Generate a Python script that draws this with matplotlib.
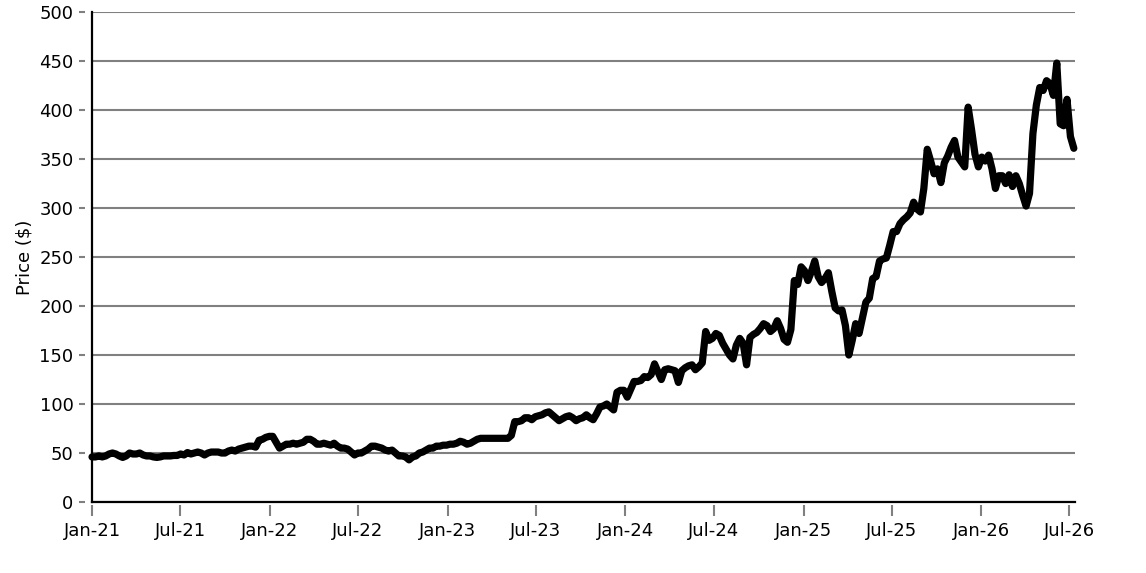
import numpy as np
import pandas as pd
import matplotlib
matplotlib.use('Agg')
import matplotlib.pyplot as plt
import matplotlib.dates as mdates

# weekly closing prices, one list per year
p2021 = [46, 46, 47, 46, 47, 49, 50, 49, 47, 45.5, 47, 50, 49, 49, 50, 48, 47, 47, 46, 45.5,
         46, 47, 47, 47, 47.5, 47.5, 49, 48, 50.5, 49, 50, 51, 50, 48, 50, 51, 51, 51, 50, 50,
         52, 53, 52, 54, 55, 56, 57, 57, 56, 63, 64, 66]
p2022 = [67, 67, 61, 55, 57, 59, 59, 60, 59, 60, 61, 64, 64, 62, 59, 59, 60, 59, 58, 60,
         57, 55, 55, 54, 51, 48, 50, 50, 52, 54, 57, 57, 56, 55, 53, 52, 53, 50, 47, 47,
         46, 43, 46, 47, 50, 51, 53, 55, 55, 57, 57, 58]
p2023 = [58, 59, 59, 60, 62, 61, 59, 60, 62, 64, 65, 65, 65, 65, 65, 65, 65, 65, 65, 68,
         82, 82, 83, 86, 86, 84, 87, 88, 89, 91, 92, 89, 86, 83, 85, 87, 88, 86, 83, 85,
         86, 89, 86, 84, 90, 97, 98, 100, 97, 94, 112, 114]
p2024 = [114, 107, 115, 123, 123, 124, 128, 127, 130, 141, 133, 125, 135, 136, 135, 134, 122, 134, 137, 139,
         140, 135, 138, 142, 174, 165, 167, 172, 170, 162, 156, 150, 146, 160, 167, 162, 140, 168, 171, 173,
         177, 182, 180, 174, 177, 185, 177, 166, 163, 176, 226, 222]
p2025 = [240, 236, 226, 235, 246, 230, 224, 228, 234, 215, 198, 195, 196, 180, 150, 165, 182, 172, 188, 204,
         208, 228, 230, 246, 248, 249, 262, 276, 276, 284, 288, 291, 295, 306, 299, 296, 320, 360, 348, 335,
         340, 326, 346, 353, 362, 369, 352, 347, 342, 403, 380, 355]
p2026 = [342, 352, 348, 354, 340, 320, 333, 333, 325, 334, 322, 333, 325, 313, 302, 315, 376, 405, 423, 420,
         430, 427, 415, 448, 386, 384, 411, 373, 361]

prices = p2021 + p2022 + p2023 + p2024 + p2025 + p2026
dates = pd.date_range('2021-01-01', periods=len(prices), freq='7D')

y_ticks = np.arange(0, 501, 50)

fig = plt.figure(figsize=(11.46, 5.73), dpi=100)
ax = fig.add_axes([0.0803, 0.1239, 0.858, 0.855])

ax.plot(dates, prices, color='black', linewidth=5.2, solid_joinstyle='round',
        solid_capstyle='round', clip_on=False, zorder=3)

ax.set_ylim(0, 500)
ax.set_xlim(pd.Timestamp('2021-01-01'), pd.Timestamp('2026-07-13'))
ax.set_yticks(y_ticks)
ax.xaxis.set_major_locator(mdates.MonthLocator(bymonth=[1, 7]))
ax.xaxis.set_major_formatter(mdates.DateFormatter('%b-%y'))

# horizontal gridlines only
ax.yaxis.grid(True, color='#808080', linewidth=1.5, zorder=0)
ax.set_axisbelow(True)

# ticks sit a little away from the axis lines: move the (hidden) spines out
for side in ['top', 'right']:
    ax.spines[side].set_visible(False)
ax.spines['left'].set_position(('outward', 5))
ax.spines['bottom'].set_position(('outward', 2.2))
ax.spines['left'].set_visible(False)
ax.spines['bottom'].set_visible(False)

# the real axis lines
ax.plot([0, 0], [0, 1], transform=ax.transAxes, color='black', linewidth=1.6, clip_on=False, zorder=4)
ax.plot([0, 1], [0, 0], transform=ax.transAxes, color='black', linewidth=1.6, clip_on=False, zorder=4)

ax.tick_params(axis='y', direction='out', length=4.3, width=1.5, color='#808080', pad=4, labelsize=13)
ax.tick_params(axis='x', direction='out', length=8, width=1.5, color='#808080', pad=4, labelsize=13)

ax.set_ylabel('Price ($)', fontsize=13, labelpad=4)

plt.savefig('out.png', dpi=100)
